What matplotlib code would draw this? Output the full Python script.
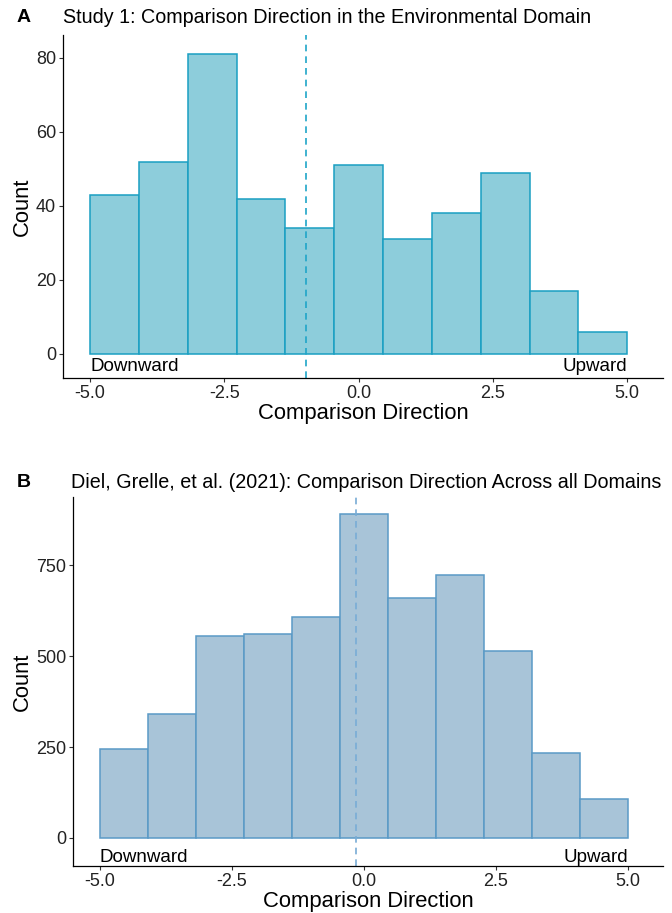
import numpy as np
import matplotlib
matplotlib.use("Agg")
import matplotlib.pyplot as plt

plt.rcParams['font.family'] = ['Liberation Sans', 'DejaVu Sans']

# bins shared by both panels
edges = np.linspace(-5, 5, 12)

# Study 1 counts
counts_a = [43, 52, 81, 42, 34, 51, 31, 38, 49, 17, 6]
mean_a = -0.98
# Diel, Grelle et al. counts
counts_b = [244, 341, 555, 560, 607, 890, 659, 722, 514, 234, 107]
mean_b = -0.15

titles = ["Study 1: Comparison Direction in the Environmental Domain",
          "Diel, Grelle, et al. (2021): Comparison Direction Across all Domains"]
panel_tags = ["A", "B"]

fig = plt.figure(figsize=(6.72, 9.13), dpi=100)
ax_a = fig.add_axes([0.094, 0.586, 0.893, 0.376])
ax_b = fig.add_axes([0.109, 0.0515, 0.878, 0.404])


def panel(ax, counts, mean, fill, edge, vcol, yticks, ylim, lab_y):
    ax.bar(edges[:-1], counts, width=np.diff(edges), align='edge',
           color=fill, edgecolor=edge, linewidth=1.1)
    ax.axvline(mean, color=vcol, linestyle=(0, (4, 3)), linewidth=1.2)
    ax.set_xlim(-5.5, 5.67)
    ax.set_ylim(*ylim)
    ax.set_xticks([-5, -2.5, 0, 2.5, 5])
    ax.set_xticklabels(["-5.0", "-2.5", "0.0", "2.5", "5.0"])
    ax.set_yticks(yticks)
    ax.tick_params(labelsize=13, length=3, width=0.8, colors='#333333',
                   labelcolor='#222222', pad=2)
    for s in ['top', 'right']:
        ax.spines[s].set_visible(False)
    for s in ['left', 'bottom']:
        ax.spines[s].set_linewidth(0.9)
    ax.set_xlabel("Comparison Direction", fontsize=15.8, labelpad=1)
    ax.set_ylabel("Count", fontsize=15.8, labelpad=2)
    ax.text(-5, lab_y, "Downward", ha='left', va='center', fontsize=13.5)
    ax.text(5, lab_y, "Upward", ha='right', va='center', fontsize=13.5)


panel(ax_a, counts_a, mean_a, '#8dcddb', '#1a9fc2', '#1fa5c8',
      [0, 20, 40, 60, 80], (-6.5, 86.3), -3.4)
panel(ax_b, counts_b, mean_b, '#a8c4d8', '#5a9ac6', '#78acd6',
      [0, 250, 500, 750], (-77, 937), -55)

fig.text(0.025, 0.981, panel_tags[0], fontsize=14, fontweight='bold', va='center')
fig.text(0.094, 0.981, titles[0], fontsize=14.2, va='center')
fig.text(0.025, 0.472, panel_tags[1], fontsize=14, fontweight='bold', va='center')
fig.text(0.106, 0.472, titles[1], fontsize=14.2, va='center')

fig.savefig("out.png", dpi=100)
